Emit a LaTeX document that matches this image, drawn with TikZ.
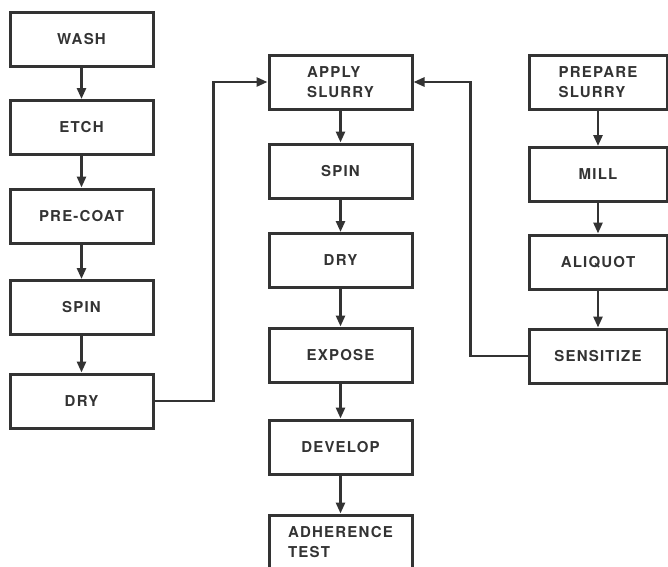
\documentclass[tikz,border=0pt]{standalone}
\usepackage{fontspec}
\setmainfont{TeX Gyre Heros}[LetterSpace=8]
\usetikzlibrary{arrows.meta}

\definecolor{ink}{HTML}{333333}

\begin{document}
\begin{tikzpicture}[x=1pt, y=-1pt,
	stepbox/.style={draw=ink, line width=3pt, text=ink, inner sep=0pt, minimum width=143pt, minimum height=54pt, align=left, font=\fontsize{15}{20}\selectfont\bfseries},
	flow/.style={draw=ink, line width=2.6pt, -{Triangle[length=11pt,width=9pt]}}]
	\useasboundingbox (0,0) rectangle (668,566);
	\clip (0,0) rectangle (668,566);

	\newcommand\drawStep[4]{\node[stepbox] at (#1,#2) (#4) {#3};}

	% substrate column
	\drawStep{81.5}{39}{WASH}{wash}
	\drawStep{81.5}{127.5}{ETCH}{etch}
	\drawStep{81.5}{216}{PRE-COAT}{precoat}
	\drawStep{81.5}{307.5}{SPIN}{spinA}
	\drawStep{81.5}{401}{DRY}{dryA}

	% coating column
	\drawStep{340.5}{82}{APPLY\\SLURRY}{apply}
	\drawStep{340.5}{171}{SPIN}{spinB}
	\drawStep{340.5}{260.5}{DRY}{dryB}
	\drawStep{340.5}{355}{EXPOSE}{expose}
	\drawStep{340.5}{447}{DEVELOP}{develop}
	\drawStep{340.5}{542}{ADHERENCE\\TEST}{adhere}

	% slurry column
	\begin{scope}[stepbox/.append style={minimum width=138pt}]
	\drawStep{598}{82}{PREPARE\\SLURRY}{prepare}
	\drawStep{598}{174.5}{MILL}{mill}
	\drawStep{598}{262}{ALIQUOT}{aliquot}
	\drawStep{598}{356}{SENSITIZE}{sensitize}
	\end{scope}

	\draw[flow] (wash) -- (etch);
	\draw[flow] (etch) -- (precoat);
	\draw[flow] (precoat) -- (spinA);
	\draw[flow] (spinA) -- (dryA);
	\draw[flow] (dryA.east) -- ++(59,0) |- (apply.west);

	\draw[flow] (apply) -- (spinB);
	\draw[flow] (spinB) -- (dryB);
	\draw[flow] (dryB) -- (expose);
	\draw[flow] (expose) -- (develop);
	\draw[flow] (develop) -- (adhere);

	\draw[flow] (prepare) -- (mill);
	\draw[flow] (mill) -- (aliquot);
	\draw[flow] (aliquot) -- (sensitize);
	\draw[flow] (sensitize.west) -- ++(-57,0) |- (apply.east);
\end{tikzpicture}
\end{document}
